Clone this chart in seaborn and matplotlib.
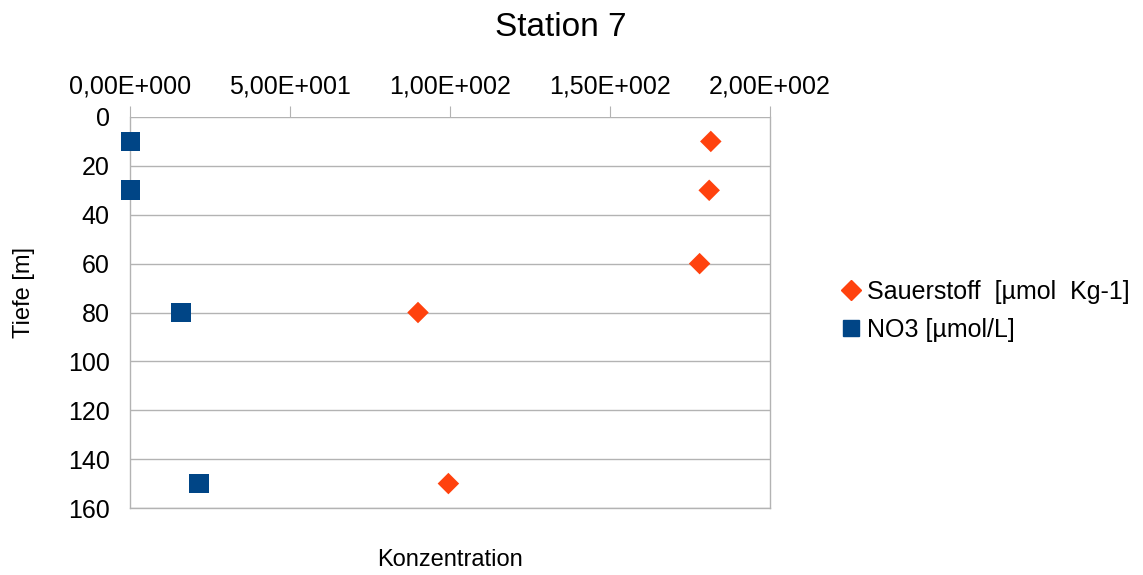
import pandas as pd
import matplotlib.pyplot as plt
import seaborn as sns
from matplotlib.ticker import FuncFormatter

# Data
tiefe_o2 = [10, 30, 60, 80, 150]
sauerstoff = [181.5, 181, 178, 90, 99.5]
tiefe_no3 = [10, 30, 80, 150]
no3 = [0.2, 0.2, 16, 21.5]

lab_o2 = "Sauerstoff  [µmol  Kg-1]"
lab_no3 = "NO3 [µmol/L]"

df = pd.concat([
    pd.DataFrame({"Konzentration": sauerstoff, "Tiefe": tiefe_o2, "Serie": lab_o2}),
    pd.DataFrame({"Konzentration": no3, "Tiefe": tiefe_no3, "Serie": lab_no3}),
])

sns.set_style("white")
plt.rcParams["font.family"] = ["Liberation Sans", "DejaVu Sans"]
plt.rcParams["text.color"] = "black"
plt.rcParams["xtick.color"] = "black"
plt.rcParams["ytick.color"] = "black"

fig = plt.figure(figsize=(11.43, 5.75), dpi=100)
ax = fig.add_axes([130 / 1143, 1 - 508 / 575, 640 / 1143, 391 / 575])

sns.scatterplot(
    data=df, x="Konzentration", y="Tiefe",
    hue="Serie", style="Serie",
    palette={lab_o2: "#ff420e", lab_no3: "#004586"},
    markers={lab_o2: "D", lab_no3: "s"},
    s=150, edgecolor="none", legend=False,
    ax=ax, zorder=3, clip_on=False,
)
# diamonds a bit smaller than squares
for coll in ax.collections:
    coll.set_clip_on(False)
ax.collections[0].set_sizes([120 if s == lab_o2 else 200 for s in df["Serie"]])


def sci_fmt(v, pos):
    if v == 0:
        return "0,00E+000"
    e = len(str(int(v))) - 1
    return ("%.2fE+%03d" % (v / 10 ** e, e)).replace(".", ",")


ax.set_xlim(0, 200)
ax.set_ylim(160, 0)
ax.set_yticks(range(0, 161, 20))
ax.set_xticks([0, 50, 100, 150, 200])
ax.xaxis.tick_top()
ax.xaxis.set_major_formatter(FuncFormatter(sci_fmt))
ax.tick_params(axis="x", length=8, color="#b3b3b3", labelsize=18, pad=5)
ax.tick_params(axis="y", length=8, color="#b3b3b3", labelsize=18, pad=6.5)
ax.grid(axis="y", color="#b3b3b3", linewidth=1)
for sp in ax.spines.values():
    sp.set_color("#b3b3b3")
    sp.set_linewidth(1)
ax.spines["top"].set_visible(False)

ax.set_xlabel("")
ax.set_ylabel("")
fig.text(450 / 1143, 1 - 560 / 575, "Konzentration", ha="center", va="center", fontsize=17)
fig.text(24 / 1143, 1 - 292 / 575, "Tiefe [m]", ha="center", va="center", rotation=90, fontsize=17)
fig.text(561 / 1143, 1 - 27 / 575, "Station 7", ha="center", va="center", fontsize=24)

handles = [
    plt.Line2D([], [], marker="D", linestyle="none", color="#ff420e", markersize=10),
    plt.Line2D([], [], marker="s", linestyle="none", color="#004586", markersize=12),
]
fig.legend(handles, [lab_o2, lab_no3], loc="center left",
           bbox_to_anchor=(826 / 1143, 1 - 311 / 575), frameon=False,
           fontsize=18, handletextpad=0.15, labelspacing=0.55, handlelength=1.0,
           borderpad=0)

fig.savefig("out.png", dpi=100)
